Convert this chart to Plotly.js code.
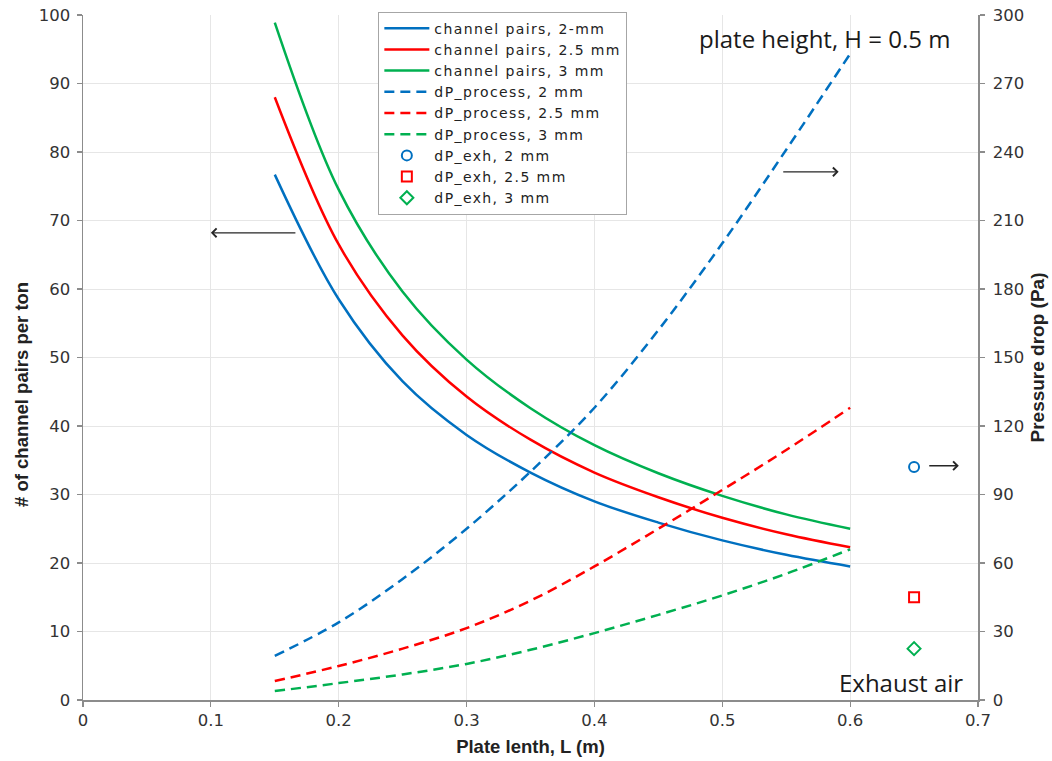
<!DOCTYPE html>
<html>
<head>
<meta charset="utf-8">
<script src="https://cdn.plot.ly/plotly-3.0.1.min.js"></script>
<style>
html,body{margin:0;padding:0;background:#fff}
#chart{width:1052px;height:761px}
.legendtext{letter-spacing:1.4px}
</style>
</head>
<body>
<div id="chart"></div>
<script>
// Plate length L (m)
const plateLength = [0.15, 0.2, 0.25, 0.3, 0.35, 0.4, 0.45, 0.5, 0.55, 0.6];

// # of channel pairs per ton (left axis)
const pairs2mm   = [76.7, 58.5, 46.5, 38.7, 33.2, 29.0, 25.9, 23.3, 21.2, 19.5];
const pairs25mm  = [88.0, 66.5, 53.2, 44.3, 38.0, 33.2, 29.6, 26.6, 24.2, 22.3];
const pairs3mm   = [98.9, 74.5, 59.6, 49.7, 42.6, 37.2, 33.1, 29.8, 27.1, 25.0];

// dP_process, Pa (right axis)
const dpProc2mm  = [19.3, 34, 53, 75, 100, 128, 162, 200, 241, 283];
const dpProc25mm = [8.3, 14.9, 22.5, 31.5, 43.5, 58.5, 75, 92, 109.5, 128];
const dpProc3mm  = [3.9, 7.4, 11.2, 15.8, 22, 29.3, 37.3, 45.8, 55.3, 66];

// dP_exh, Pa (right axis)
const exhX       = [0.65];
const dpExh2mm   = [102];
const dpExh25mm  = [45];
const dpExh3mm   = [22.5];

const names = {
  pairs: ['channel pairs, 2-mm', 'channel pairs, 2.5 mm', 'channel pairs, 3 mm'],
  proc:  ['dP_process, 2 mm', 'dP_process, 2.5 mm', 'dP_process, 3 mm'],
  exh:   ['dP_exh, 2 mm', 'dP_exh, 2.5 mm', 'dP_exh, 3 mm']
};
const colors = ['#0070C0', '#FF0000', '#00B050'];

const traces = [];
[pairs2mm, pairs25mm, pairs3mm].forEach((arr, i) => {
  traces.push({x: plateLength, y: arr, name: names.pairs[i], type: 'scatter', mode: 'lines',
    line: {color: colors[i], width: 2.5, shape: 'spline'}, yaxis: 'y'});
});
[dpProc2mm, dpProc25mm, dpProc3mm].forEach((arr, i) => {
  traces.push({x: plateLength, y: arr, name: names.proc[i], type: 'scatter', mode: 'lines',
    line: {color: colors[i], width: 2.5, dash: '10px,6px', shape: 'spline'}, yaxis: 'y2'});
});
const symbols = ['circle-open', 'square-open', 'diamond-open'];
[dpExh2mm, dpExh25mm, dpExh3mm].forEach((arr, i) => {
  traces.push({x: exhX, y: arr, name: names.exh[i], type: 'scatter', mode: 'markers',
    marker: {symbol: symbols[i], color: colors[i], size: 10, line: {color: colors[i], width: 2}}, yaxis: 'y2'});
});

const tickFont = {family: 'DejaVu Sans, Arial, sans-serif', size: 16.5, color: '#333'};
const titleFont = {family: 'Liberation Sans, Arial, sans-serif', size: 18.5, color: '#222', weight: 'bold'};
const axisCommon = {
  ticks: 'outside', ticklen: 5, tickcolor: '#8c8c8c', tickwidth: 1.2,
  showline: true, linecolor: '#8c8c8c', linewidth: 1.5,
  gridcolor: '#e6e6e6', gridwidth: 1, zeroline: false, tickfont: tickFont
};

const layout = {
  width: 1052, height: 761,
  margin: {l: 83, r: 74, t: 15, b: 61},
  paper_bgcolor: '#fff', plot_bgcolor: '#fff',
  showlegend: true,
  legend: {x: 0.33, y: 1.005, xanchor: 'left', yanchor: 'top',
    bgcolor: '#fff', bordercolor: '#a6a6a6', borderwidth: 1,
    font: {family: 'DejaVu Sans, Arial, sans-serif', size: 14, color: '#222'},
    itemwidth: 45, tracegroupgap: 0},
  xaxis: Object.assign({}, axisCommon, {range: [0, 0.7], dtick: 0.1, tick0: 0,
    title: {text: 'Plate lenth, L (m)', font: titleFont, standoff: 11}}),
  yaxis: Object.assign({}, axisCommon, {range: [0, 100], dtick: 10, tick0: 0, ticklabelstandoff: 3}),
  yaxis2: Object.assign({}, axisCommon, {range: [0, 300], dtick: 30, tick0: 0, overlaying: 'y', side: 'right',
    showgrid: false, ticklabelstandoff: 5,
    title: {text: 'Pressure drop (Pa)', font: Object.assign({}, titleFont, {size: 19}), standoff: 7}}),
  annotations: [
    {xref: 'paper', yref: 'paper', x: -0.0693, y: 0.4467, xanchor: 'center', yanchor: 'middle',
      text: '# of channel pairs per ton', textangle: -90, showarrow: false, font: titleFont},
    {xref: 'paper', yref: 'paper', x: 0.829, y: 0.966, xanchor: 'center', yanchor: 'middle',
      text: 'plate height, H = 0.5 m', showarrow: false,
      font: {family: 'Open Sans, Lato, sans-serif', size: 24, color: '#1a1a1a'}},
    {xref: 'paper', yref: 'paper', x: 0.914, y: 0.026, xanchor: 'center', yanchor: 'middle',
      text: 'Exhaust air', showarrow: false,
      font: {family: 'Open Sans, Lato, sans-serif', size: 24, color: '#1a1a1a'}},
    {xref: 'x', yref: 'y', axref: 'x', ayref: 'y', x: 0.1, y: 68.2, ax: 0.1673, ay: 68.2, text: '',
      showarrow: true, arrowhead: 4, arrowsize: 1.3, arrowwidth: 1.3, arrowcolor: '#262626'},
    {xref: 'x', yref: 'y', axref: 'x', ayref: 'y', x: 0.591, y: 77.1, ax: 0.5465, ay: 77.1, text: '',
      showarrow: true, arrowhead: 4, arrowsize: 1.3, arrowwidth: 1.3, arrowcolor: '#262626'},
    {xref: 'x', yref: 'y', axref: 'x', ayref: 'y', x: 0.685, y: 34.2, ax: 0.6607, ay: 34.2, text: '',
      showarrow: true, arrowhead: 4, arrowsize: 1.3, arrowwidth: 1.3, arrowcolor: '#262626'}
  ]
};

Plotly.newPlot('chart', traces, layout, {displayModeBar: false, staticPlot: true});
</script>
</body>
</html>
